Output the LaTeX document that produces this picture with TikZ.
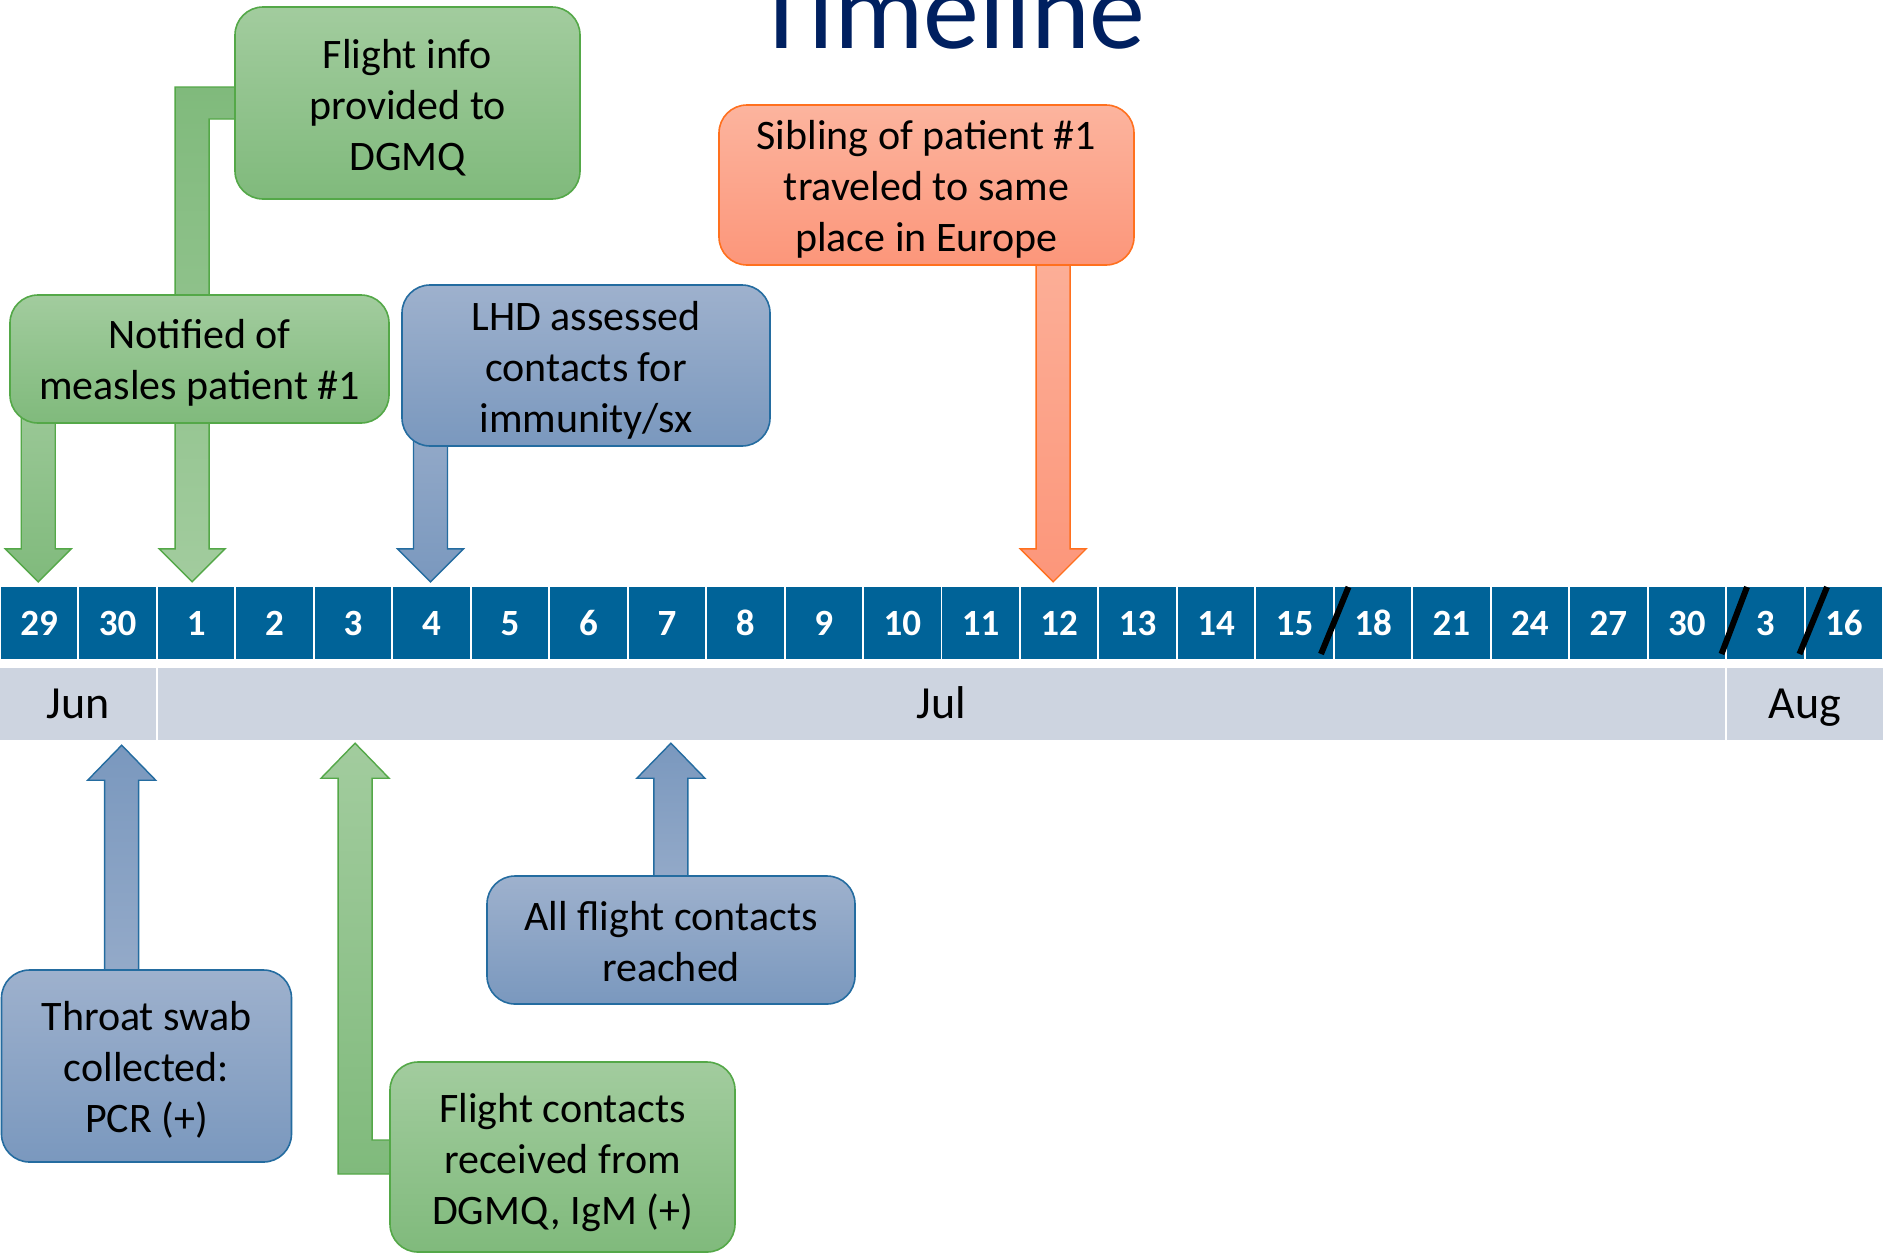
\documentclass[tikz,border=0pt]{standalone}
\usepackage{fontspec}
\setmainfont{Carlito}
\usetikzlibrary{calc}

\definecolor{titleblue}{RGB}{0,32,96}
\definecolor{cellblue}{RGB}{0,99,152}
\definecolor{monthgrey}{RGB}{205,212,224}
\definecolor{greenTop}{RGB}{162,204,158}
\definecolor{greenBot}{RGB}{128,186,124}
\definecolor{greenLine}{RGB}{84,168,72}
\definecolor{blueTop}{RGB}{158,177,205}
\definecolor{blueBot}{RGB}{122,152,190}
\definecolor{blueLine}{RGB}{36,108,160}
\definecolor{orangeTop}{RGB}{252,180,158}
\definecolor{orangeBot}{RGB}{252,150,122}
\definecolor{orangeLine}{RGB}{255,112,30}

\newcommand\boxfont{\fontsize{42}{51}\selectfont}

% Block arrow pointing down: #1 style, #2 start point (its y is used), #3 tip
\newcommand\blockdown[3]{%
  \path[#1] let \p1=(#2), \p2=(#3) in
    (\x2-17pt,\y1) -- (\x2+17pt,\y1) -- (\x2+17pt,\y2+33pt) -- (\x2+33pt,\y2+33pt)
    -- (\x2,\y2) -- (\x2-33pt,\y2+33pt) -- (\x2-17pt,\y2+33pt) -- cycle;}
% Block arrow pointing up: #1 style, #2 start point (its y is used), #3 tip
\newcommand\blockup[3]{%
  \path[#1] let \p1=(#2), \p2=(#3) in
    (\x2-17pt,\y1) -- (\x2+17pt,\y1) -- (\x2+17pt,\y2-35pt) -- (\x2+34pt,\y2-35pt)
    -- (\x2,\y2) -- (\x2-34pt,\y2-35pt) -- (\x2-17pt,\y2-35pt) -- cycle;}

\tikzset{
  box/.style={rectangle, rounded corners=28pt, line width=1.6pt, inner sep=0pt},
  boxtext/.style={inner sep=0pt, align=center, font=\boxfont, text=black},
  greenbox/.style={box, draw=greenLine, top color=greenTop, bottom color=greenBot},
  bluebox/.style={box, draw=blueLine, top color=blueTop, bottom color=blueBot},
  orangebox/.style={box, draw=orangeLine, top color=orangeTop, bottom color=orangeBot},
  arrowline/.style={line width=1.4pt},
  greendown/.style={arrowline, draw=greenLine, top color=greenTop, bottom color=greenBot},
  greenrev/.style={arrowline, draw=greenLine, top color=greenBot, bottom color=greenTop},
  bluedown/.style={arrowline, draw=blueLine, top color=blueTop, bottom color=blueBot},
  blueup/.style={arrowline, draw=blueLine, top color=blueBot, bottom color=blueTop},
  orangedown/.style={arrowline, draw=orangeLine, top color=orangeTop, bottom color=orangeBot},
  daycell/.style={rectangle, fill=cellblue, inner sep=0pt, minimum width=76.5pt,
    minimum height=72pt, text=white, font=\fontsize{37}{40}\selectfont\bfseries,
    text height=24pt, text depth=0pt},
  monthcell/.style={rectangle, fill=monthgrey, inner sep=0pt, minimum height=72pt,
    text=black, font=\fontsize{46}{50}\selectfont, text height=36pt, text depth=8pt},
  breakmark/.style={line width=6pt, black},
}

\begin{document}
\begin{tikzpicture}[x=1pt, y=-1pt]
\useasboundingbox[fill=white] (0,0) rectangle (1883,1254);

% title
\node[anchor=base, text=titleblue, font=\fontsize{112}{116}\selectfont, inner sep=0pt]
  (title) at (950,48) {Timeline};

% day cells
\foreach \lab [count=\i from 0] in {29,30,1,2,3,4,5,6,7,8,9,10,11,12,13,14,15,18,21,24,27,30,3,16}
  \node[daycell] (d\i) at ({78.458*\i+39.23},623) {\lab};

% month bar
\node[monthcell, minimum width=155.9pt] (jun) at (77.95,704) {Jun};
\node[monthcell, minimum width=1567pt] (jul) at (941.5,704) {Jul};
\node[monthcell, minimum width=156pt] (aug) at (1805,704) {Aug};

% breaks in the day scale
\draw[breakmark] (1348.5,587) -- (1321,654);
\draw[breakmark] (1747,587) -- (1721.5,654);
\draw[breakmark] (1827,587) -- (1799.5,654);

% centres of the event boxes
\path (407.5,103) coordinate (cflight);
\path (199.5,359) coordinate (cnotified);
\path (586,365.5) coordinate (clhd);
\path (926.5,185) coordinate (csibling);
\path (146.5,1066) coordinate (cthroat);
\path (671,940) coordinate (callflight);
\path (562.5,1157) coordinate (creceived);

% arrows above the scale
\path[greenrev] let \p1=(cflight), \p2=($(d2.north)+(-4,-5)$) in
  (\x1,\y1+16pt) -- (\x2-17pt,\y1+16pt) -- (\x2-17pt,\y2+33pt) -- (\x2-33pt,\y2+33pt)
  -- (\x2,\y2) -- (\x2+33pt,\y2+33pt) -- (\x2+17pt,\y2+33pt) -- (\x2+17pt,\y1-16pt)
  -- (\x1,\y1-16pt) -- cycle;
\blockdown{greendown}{cnotified}{$(d0.north)+(-1,-5)$}
\blockdown{bluedown}{clhd}{$(d5.north)+(-1,-5)$}
\blockdown{orangedown}{csibling}{$(d13.north)+(-6,-5)$}

% arrows below the scale
\blockup{blueup}{cthroat}{$(d1 |- jun.south)+(4,5)$}
\blockup{blueup}{callflight}{$(d8 |- jul.south)+(4,3)$}
\path[greendown] let \p1=(creceived), \p2=($(d4 |- jul.south)+(2,3)$) in
  (\x1,\y1+17pt) -- (\x2+17pt,\y1+17pt) -- (\x2+17pt,\y2-35pt) -- (\x2+34pt,\y2-35pt)
  -- (\x2,\y2) -- (\x2-34pt,\y2-35pt) -- (\x2-17pt,\y2-35pt) -- (\x2-17pt,\y1-17pt)
  -- (\x1,\y1-17pt) -- cycle;

% event boxes
\node[greenbox, minimum width=345pt, minimum height=192pt] (flight) at (cflight) {};
\node[greenbox, minimum width=379pt, minimum height=128pt] (notified) at (cnotified) {};
\node[bluebox, minimum width=368pt, minimum height=161pt] (lhd) at (clhd) {};
\node[orangebox, minimum width=415pt, minimum height=160pt] (sibling) at (csibling) {};
\node[bluebox, minimum width=290pt, minimum height=192pt] (throat) at (cthroat) {};
\node[bluebox, minimum width=368pt, minimum height=128pt] (allflight) at (callflight) {};
\node[greenbox, minimum width=345pt, minimum height=190pt] (received) at (creceived) {};

% event texts
\node[boxtext] (flight-t) at ($(flight.center)+(0,4.5)$) {Flight info\\provided to\\DGMQ};
\node[boxtext] (notified-t) at ($(notified.center)+(0,4)$) {Notified of\\measles patient \#1};
\node[boxtext] (lhd-t) at ($(lhd.center)+(0,4.5)$) {LHD assessed\\contacts for\\immunity/sx};
\node[boxtext] (sibling-t) at ($(sibling.center)+(0,4)$) {Sibling of patient \#1\\traveled to same\\place in Europe};
\node[boxtext] (throat-t) at ($(throat.center)+(0,4)$) {Throat swab\\collected:\\PCR (+)};
\node[boxtext] (allflight-t) at ($(allflight.center)+(0,2)$) {All flight contacts\\reached};
\node[boxtext] (received-t) at ($(received.center)+(0,5.5)$) {Flight contacts\\received from\\DGMQ, IgM (+)};
\end{tikzpicture}
\end{document}
